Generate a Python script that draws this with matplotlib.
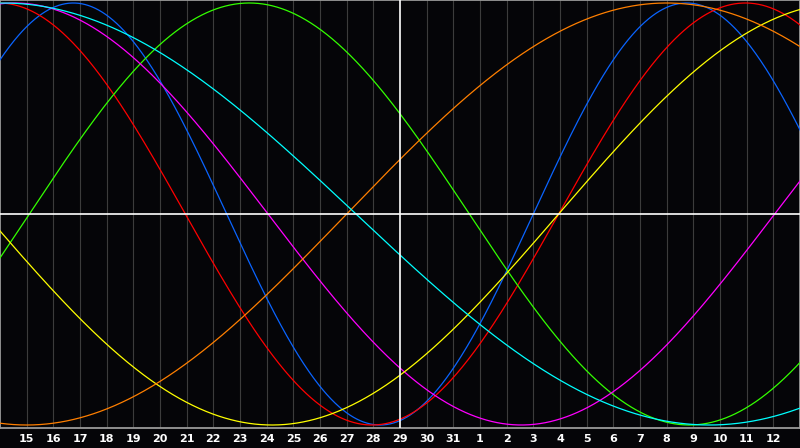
import numpy as np
import matplotlib
matplotlib.use("Agg")
import matplotlib.pyplot as plt
import matplotlib.transforms as mtransforms

# biorhythm cycles: period (days) and day (relative to the centre day) of the trough
cycles = ["physical", "emotional", "intellectual", "intuition", "aesthetic", "awareness", "spiritual"]
periods = [23, 28, 33, 38, 43, 48, 53]
trough_days = [-0.75, -1.05, 10.85, 4.55, -4.8, -14.0, 11.6]
colors = ["#0a64ff", "#ff0000", "#33ff00", "#ff00ff", "#ffff00", "#ff7f00", "#00ffff"]

# day labels under the grid (day -14 .. +14 around the centre, centre = 29)
day_offsets = list(range(-14, 15))
day_labels = [str(d) for d in list(range(15, 32)) + list(range(1, 13))]

fig = plt.figure(figsize=(8, 4.48), dpi=100)
fig.patch.set_facecolor("#050508")
ax = fig.add_axes([0, 20 / 448, 1, 428 / 448])
ax.set_facecolor("#050508")
ax.set_xlim(-15, 15)
ax.set_ylim(-214 / 211, 214 / 211)

# vertical day grid
for d in day_offsets:
    if d != 0:
        ax.axvline(d, color="#3c3c3c", lw=0.8, zorder=1)

d = np.linspace(-15, 15, 1200)
for name, p, t0, c in zip(cycles, periods, trough_days, colors):
    ax.plot(d, -np.cos(2 * np.pi * (d - t0) / p), color=c, lw=0.9, zorder=3, label=name)

# centre cross
ax.axvline(0, color="white", lw=1.2, zorder=4)
ax.axhline(0, color="white", lw=1.2, zorder=4)

for s in ax.spines.values():
    s.set_color("#9a9a9a")
    s.set_linewidth(1.3)
ax.set_xticks([])
ax.set_yticks([])

trans = mtransforms.blended_transform_factory(ax.transData, ax.transAxes)
for off, lab in zip(day_offsets, day_labels):
    ax.text(off, -11 / 428, lab, transform=trans, ha="center", va="center",
            color="white", fontsize=8, fontweight="bold", family="DejaVu Sans",
            clip_on=False)

fig.savefig("out.png", dpi=100, facecolor=fig.get_facecolor())
